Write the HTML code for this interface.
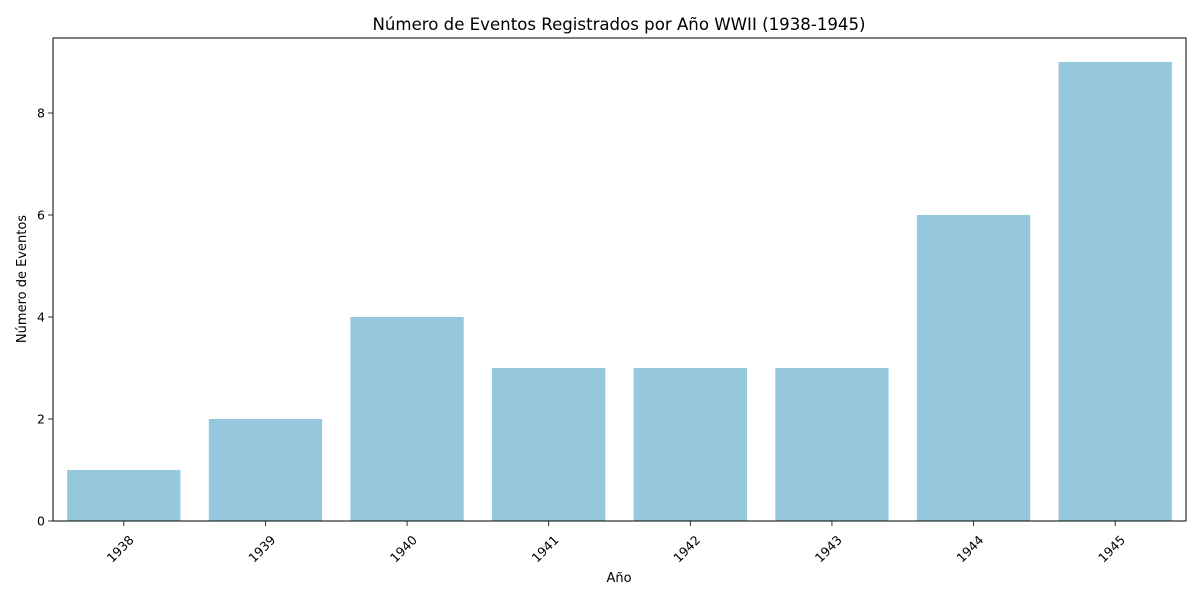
<!DOCTYPE html>
<html><head><meta charset="utf-8">
<style>
body{margin:0;background:#fff;font-family:"Liberation Sans","DejaVu Sans",sans-serif;}
svg text{font-family:"DejaVu Sans","Liberation Sans",sans-serif;fill:#000;}
</style></head>
<body>
<svg id="chart" width="1200" height="600" viewBox="0 0 1200 600" xmlns="http://www.w3.org/2000/svg">
<text x="619" y="30" text-anchor="middle" font-size="16.6">Número de Eventos Registrados por Año WWII (1938-1945)</text>
<g id="bars"></g>
<g id="axes"></g>
<text x="619" y="582" text-anchor="middle" font-size="13">Año</text>
<text transform="translate(26,279) rotate(-90)" text-anchor="middle" font-size="13">Número de Eventos</text>
</svg>
<script>
const categories = ["1938","1939","1940","1941","1942","1943","1944","1945"];
const values = [1,2,4,3,3,3,6,9];
const yTicks = [0,2,4,6,8];

const L=53,R=1186,T=38,B=521,YMAX=9.47;
const NS="http://www.w3.org/2000/svg";
const band=(R-L)/categories.length;
const x=i=>L+band*i;
const y=v=>B-(B-T)*v/YMAX;
const bars=document.getElementById('bars');
const axes=document.getElementById('axes');
function mk(tag,attrs,parent){const e=document.createElementNS(NS,tag);for(const k in attrs)e.setAttribute(k,attrs[k]);parent.appendChild(e);return e;}

values.forEach((v,i)=>{
  const r=mk('rect',{x:x(i)+band*0.1,y:y(v),width:band*0.8,height:B-y(v),fill:'#95c8dd'},bars);
  
  
  const cx=x(i)+band/2;
  mk('line',{x1:cx,x2:cx,y1:B,y2:B+5,stroke:'#000','stroke-width':0.8},axes);
  const t=mk('text',{transform:`translate(${cx+4},${B+13}) rotate(-45)`,'text-anchor':'end','dominant-baseline':'hanging','font-size':12.5},axes);
  t.textContent=categories[i];
  
  
});
yTicks.forEach(v=>{
  mk('line',{x1:L-5,x2:L,y1:y(v),y2:y(v),stroke:'#000','stroke-width':0.8},axes);
  const t=mk('text',{x:L-8,y:y(v)+4.5,'text-anchor':'end','font-size':12.5},axes);
  t.textContent=v;
  
  
});
const f=mk('rect',{x:L,y:T,width:R-L,height:B-T,fill:'none',stroke:'#000','stroke-width':1},axes);


</script>
</body></html>
